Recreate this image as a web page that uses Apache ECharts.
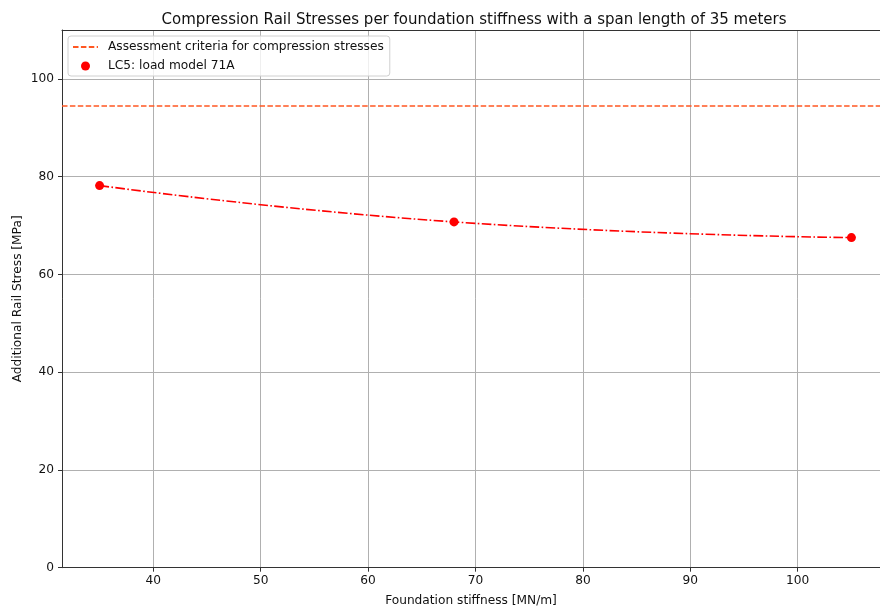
<!DOCTYPE html>
<html>
<head>
<meta charset="utf-8">
<script src="https://cdn.jsdelivr.net/npm/echarts@6/dist/echarts.min.js"></script>
<style>
html,body{margin:0;padding:0;background:#fff;}
#chart{width:880px;height:610px;}
</style>
</head>
<body>
<div id="chart"></div>
<script>
// ---- data ----
const titleText = 'Compression Rail Stresses per foundation stiffness with a span length of 35 meters';
const xName = 'Foundation stiffness [MN/m]';
const yName = 'Additional Rail Stress [MPa]';
const stiffness = [35, 68, 105];
const stress = [78.17, 70.74, 67.53];
const criteria = 94.5;
const criteriaName = 'Assessment criteria for compression stresses';
const lcName = 'LC5: load model 71A';
const xMin = 31.5, xMax = 107.66;
const yMin = 0, yMax = 110, yStep = 20;

const font = 'DejaVu Sans';
const fs = 12.2;
const pts = stiffness.map((x, i) => [x, stress[i]]);

const chart = echarts.init(document.getElementById('chart'), null, {renderer: 'canvas'});
chart.setOption({
  animation: false,
  backgroundColor: '#fff',
  title: {
    text: titleText,
    left: 469, top: 8, textAlign: 'center',
    textStyle: {fontFamily: font, fontSize: 15, fontWeight: 'normal', color: '#111'}
  },
  grid: {left: 62, top: 30, right: 0, bottom: 42.3, show: false, containLabel: false, outerBoundsMode: 'none'},
  legend: {
    orient: 'vertical', left: 68, top: 36,
    padding: [5, 6, 4, 4], itemGap: 7, itemWidth: 25, itemHeight: 9,
    borderColor: '#d0d0d0', borderWidth: 1, borderRadius: 3, backgroundColor: 'rgba(255,255,255,0.8)',
    textStyle: {fontFamily: font, fontSize: fs, color: '#111', padding: [0, 0, 0, 5]},
    data: [
      {name: criteriaName, itemStyle: {opacity: 0}},
      {name: lcName, icon: 'circle'}
    ]
  },
  xAxis: [{
    type: 'value', min: xMin, max: xMax, splitNumber: 7,
    name: xName, nameLocation: 'middle', nameGap: 27,
    nameTextStyle: {fontFamily: font, fontSize: fs, color: '#111'},
    axisLine: {show: true, lineStyle: {color: '#333', width: 1}},
    axisTick: {show: true, length: 4, lineStyle: {color: '#333'}},
    axisLabel: {fontFamily: font, fontSize: fs, color: '#111', margin: 7, showMinLabel: false, showMaxLabel: false},
    splitLine: {show: true, lineStyle: {color: '#b0b0b0', width: 1}}
  }, {
    type: 'value', position: 'top', min: xMin, max: xMax,
    axisLine: {show: true, onZero: false, lineStyle: {color: '#333', width: 1}},
    axisTick: {show: false}, axisLabel: {show: false}, splitLine: {show: false}
  }],
  yAxis: {
    type: 'value', min: yMin, max: yMax, interval: yStep,
    name: yName, nameLocation: 'middle', nameGap: 38, nameMoveOverlap: false,
    nameTextStyle: {fontFamily: font, fontSize: fs, color: '#111'},
    axisLine: {show: true, lineStyle: {color: '#333', width: 1}},
    axisTick: {show: true, length: 4, lineStyle: {color: '#333'}},
    axisLabel: {fontFamily: font, fontSize: fs, color: '#111', margin: 8, showMaxLabel: false},
    splitLine: {show: true, lineStyle: {color: '#b0b0b0', width: 1}}
  },
  series: [
    {
      name: criteriaName, type: 'line', data: [], symbol: 'none',
      itemStyle: {color: '#ff5722'},
      lineStyle: {color: '#ff5722', width: 1.6, type: [5.5, 2.4]},
      markLine: {
        silent: true, symbol: 'none', label: {show: false},
        lineStyle: {color: '#ff5722', width: 1.6, type: [5.5, 2.4]},
        data: [{yAxis: criteria}]
      }
    },
    {
      name: 'curve', type: 'line', data: pts, smooth: 0.5, symbol: 'none',
      lineStyle: {color: '#ff0000', width: 1.6, type: [9.6, 2.4, 1.6, 2.4]},
      z: 2
    },
    {
      name: lcName, type: 'scatter', data: pts, symbolSize: 9,
      itemStyle: {color: '#ff0000', opacity: 1}, z: 3
    }
  ]
});
</script>
</body>
</html>
